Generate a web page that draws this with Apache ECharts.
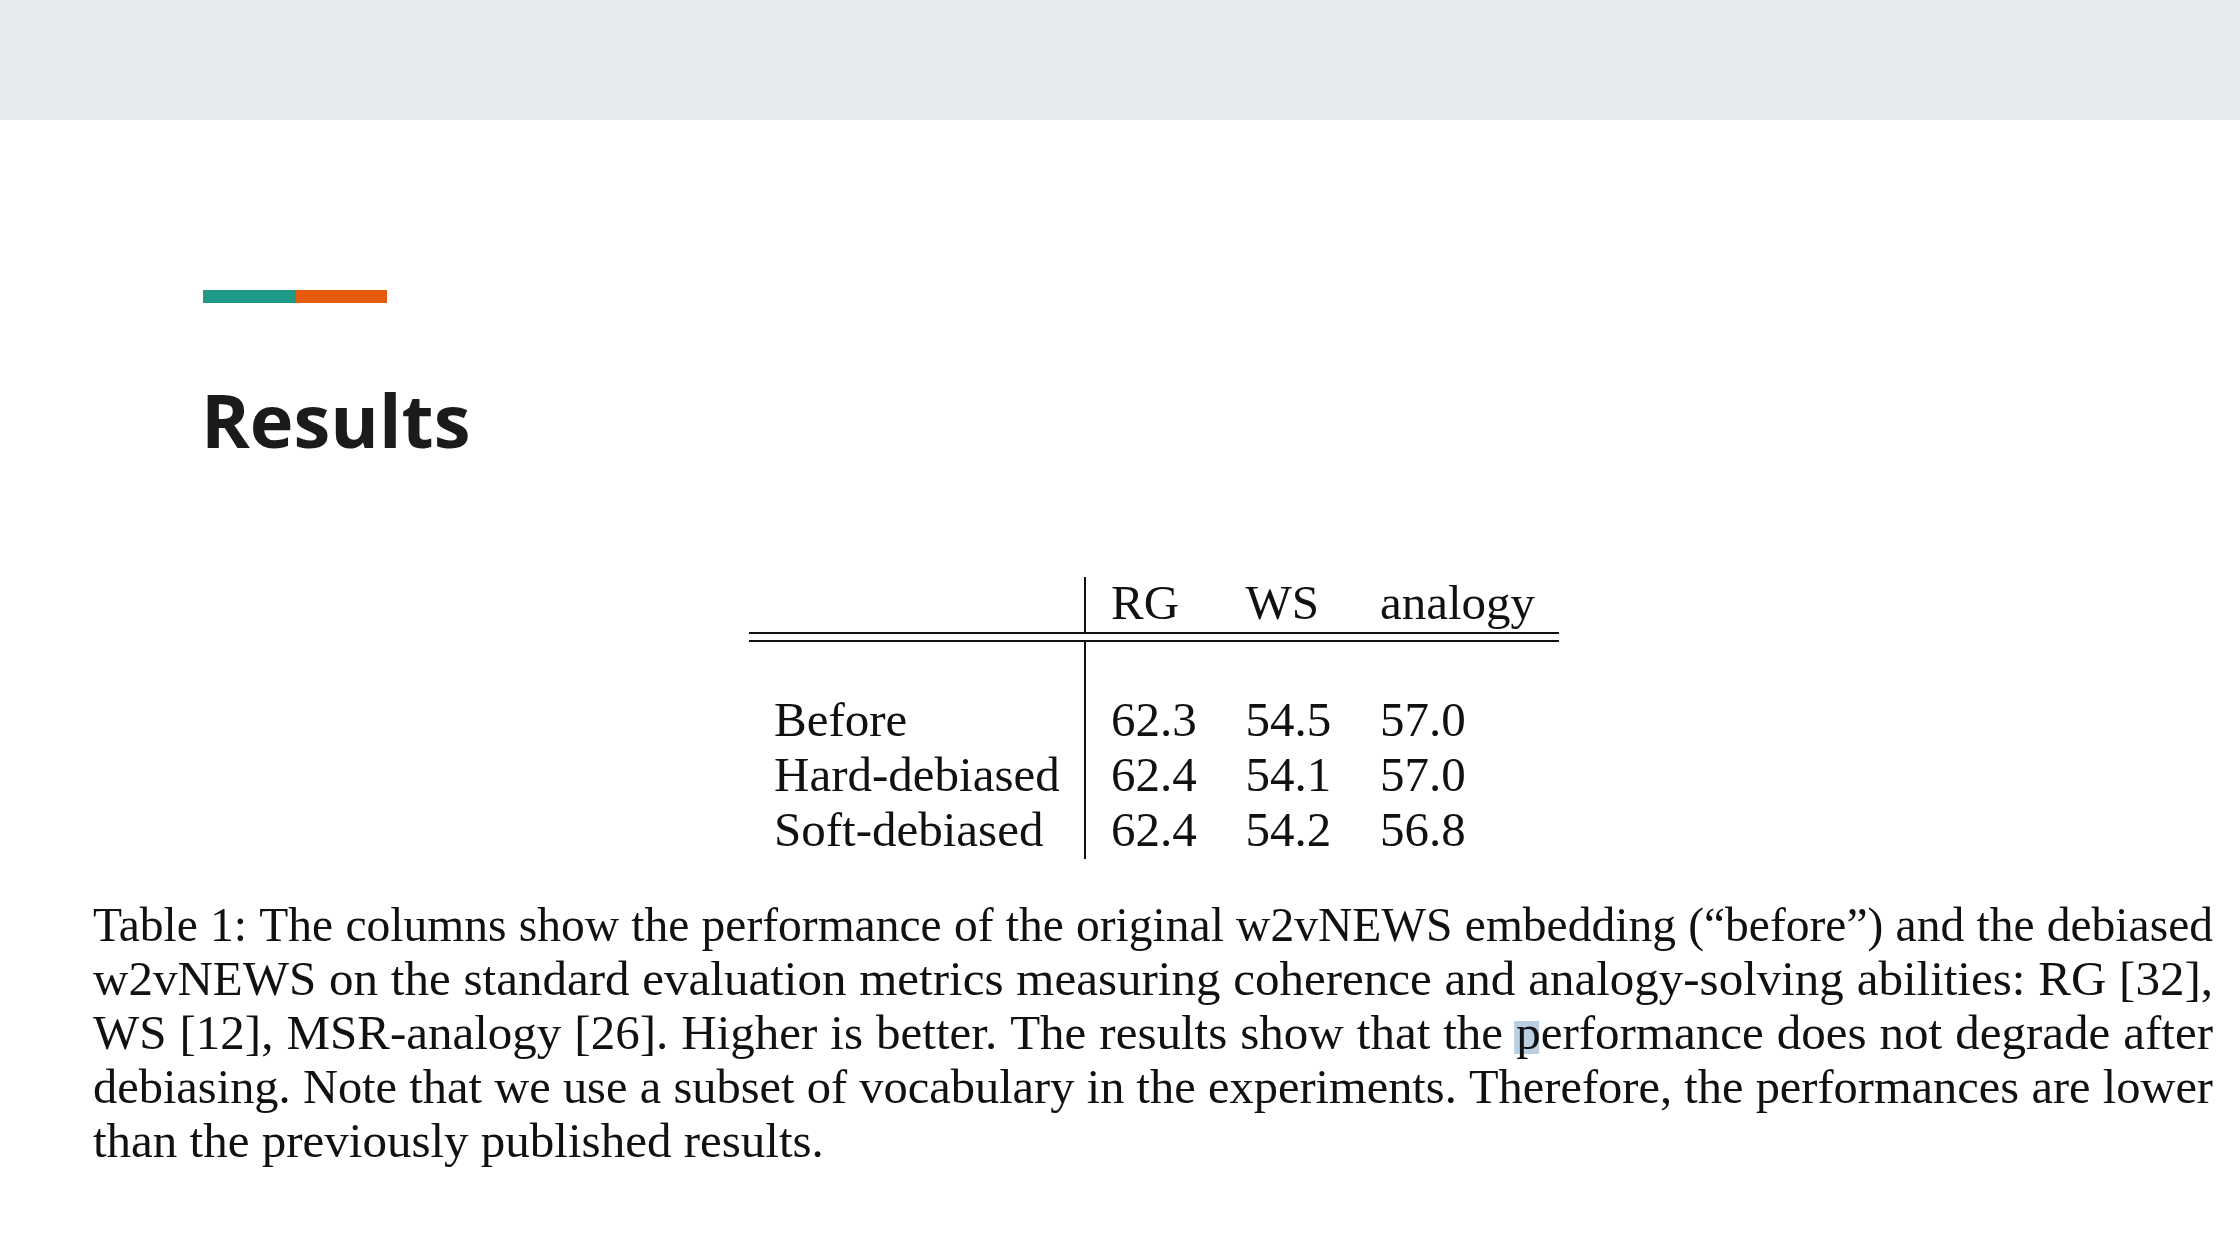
<!DOCTYPE html>
<html>
<head>
<meta charset="utf-8">
<script src="https://cdn.jsdelivr.net/npm/echarts@6/dist/echarts.min.js"></script>
<style>
  html, body { margin: 0; padding: 0; background: #fff; }
  #chart { width: 2240px; height: 1260px; }
</style>
</head>
<body>
<div id="chart"></div>
<script>
// table data
const colNames = ['RG', 'WS', 'analogy'];
const rowNames = ['Before', 'Hard-debiased', 'Soft-debiased'];
const rgValues = [62.3, 62.4, 62.4];
const wsValues = [54.5, 54.1, 54.2];
const analogyValues = [57.0, 57.0, 56.8];

const slideTitle = 'Results';
const captionLines = [
  'Table 1: The columns show the performance of the original w2vNEWS embedding (\u201cbefore\u201d) and the debiased',
  'w2vNEWS on the standard evaluation metrics measuring coherence and analogy-solving abilities: RG [32],',
  'WS [12], MSR-analogy [26]. Higher is better. The results show that the performance does not degrade after',
  'debiasing. Note that we use a subset of vocabulary in the experiments. Therefore, the performances are lower',
  'than the previously published results.'
];

const serif = '"Liberation Serif", "Times New Roman", serif';
const fontSize = 49;
const font = fontSize + 'px ' + serif;
const midShift = 0.23 * fontSize; // baseline -> 'middle' anchor, measured on render

const chartInit = () => {
  const chart = echarts.init(document.getElementById('chart'));

  // cells: [col, row, value]
  const columns = [rgValues, wsValues, analogyValues];
  const cells = [];
  columns.forEach((vals, c) => {
    vals.forEach((v, r) => cells.push([c, r, v]));
  });

  // caption, justified word by word
  const ctx = document.createElement('canvas').getContext('2d');
  ctx.font = font;
  const spaceW = ctx.measureText(' ').width;
  const capLeft = 93;
  const capRight = 2213;
  const capBaseline = 939;
  const capLineGap = 54.2;
  const captionEls = [];
  let highlightX = 0;
  captionLines.forEach((line, i) => {
    const words = line.split(' ');
    let widths = words.map(w => ctx.measureText(w).width);
    const total = widths.reduce((a, b) => a + b, 0);
    const isLast = i === captionLines.length - 1;
    const target = capRight - capLeft;
    let sx = 1;
    let gap = spaceW;
    if (!isLast) {
      gap = (target - total) / (words.length - 1);
      if (gap < spaceW) {
        // squeeze the glyphs a bit instead of the spaces
        sx = (target - spaceW * (words.length - 1)) / total;
        widths = widths.map(w => w * sx);
        gap = spaceW;
      }
    }
    let x = capLeft;
    const y = capBaseline + i * capLineGap - midShift;
    words.forEach((w, j) => {
      if (i === 2 && w === 'performance') highlightX = x;
      captionEls.push({
        type: 'text', x: x, y: y, z: 10, scaleX: sx,
        style: { text: w, font: font, fill: '#111', align: 'left', verticalAlign: 'middle', textAlign: 'left', textVerticalAlign: 'middle' }
      });
      x += widths[j] + gap;
    });
  });

  const graphics = [
    { type: 'rect', shape: { x: 0, y: 0, width: 2240, height: 120 }, style: { fill: '#e8ebee' } },
    { type: 'rect', shape: { x: 203, y: 290, width: 93, height: 13 }, style: { fill: '#1f9a87' } },
    { type: 'rect', shape: { x: 296, y: 290, width: 91, height: 13 }, style: { fill: '#e65a0c' } },
    {
      type: 'text', x: 201, y: 453 - 26,
      style: { text: slideTitle, font: 'bold 74px "Open Sans", sans-serif', fill: '#1b1b1b', align: 'left', verticalAlign: 'middle', textAlign: 'left', textVerticalAlign: 'middle' }
    },
    // table rules
    { type: 'line', shape: { x1: 749, y1: 633, x2: 1559, y2: 633 }, style: { stroke: '#111', lineWidth: 2 } },
    { type: 'line', shape: { x1: 749, y1: 641, x2: 1559, y2: 641 }, style: { stroke: '#111', lineWidth: 2 } },
    { type: 'line', shape: { x1: 1085, y1: 577, x2: 1085, y2: 633 }, style: { stroke: '#111', lineWidth: 2 } },
    { type: 'line', shape: { x1: 1085, y1: 641, x2: 1085, y2: 859 }, style: { stroke: '#111', lineWidth: 2 } },
    {
      type: 'rect', z: 5,
      shape: { x: highlightX - 2, y: 1021, width: 25, height: 33 },
      style: { fill: 'rgba(120,160,200,0.5)' }
    }
  ].concat(captionEls);

  const labelStyle = { fontFamily: serif, fontSize: fontSize, color: '#111' };

  const options = {
    animation: false,
    backgroundColor: '#fff',
    grid: { left: 1111, top: 734 - midShift, width: 269, height: 110 },
    xAxis: {
      type: 'category',
      data: colNames,
      position: 'top',
      boundaryGap: false,
      axisLine: { show: false },
      axisTick: { show: false },
      splitLine: { show: false },
      axisLabel: Object.assign({ interval: 0, align: 'left', verticalAlign: 'middle', margin: 117 }, labelStyle)
    },
    yAxis: {
      type: 'category',
      data: rowNames,
      inverse: true,
      boundaryGap: false,
      axisLine: { show: false },
      axisTick: { show: false },
      splitLine: { show: false },
      axisLabel: Object.assign({ interval: 0, align: 'left', verticalAlign: 'middle', margin: 337 }, labelStyle)
    },
    series: [
      {
        type: 'custom',
        coordinateSystem: 'cartesian2d',
        data: cells,
        renderItem: (params, api) => {
          const p = api.coord([api.value(0), api.value(1)]);
          return {
            type: 'text',
            x: p[0],
            y: p[1],
            style: {
              text: Number(api.value(2)).toFixed(1),
              font: font,
              fill: '#111',
              align: 'left', verticalAlign: 'middle',
              textAlign: 'left', textVerticalAlign: 'middle'
            }
          };
        }
      }
    ],
    graphic: graphics
  };

  chart.setOption(options);
};

chartInit();
</script>
</body>
</html>
